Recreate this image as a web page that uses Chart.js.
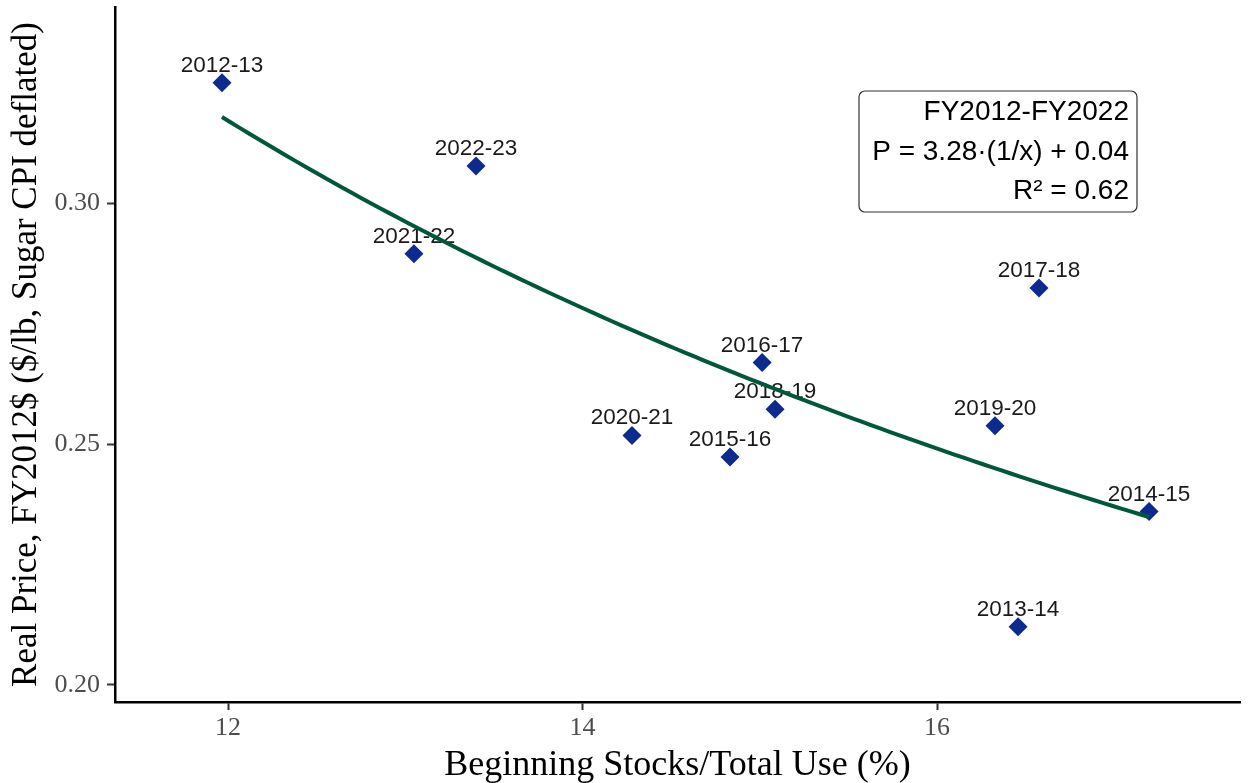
<!DOCTYPE html>
<html>
<head>
<meta charset="utf-8">
<script src="https://cdn.jsdelivr.net/npm/chart.js@4/dist/chart.umd.min.js"></script>
<style>
  html, body { margin: 0; padding: 0; background: #ffffff; }
  #wrap { width: 1248px; height: 783px; }
</style>
</head>
<body>
<div id="wrap"><canvas id="c" width="1248" height="783"></canvas></div>
<script>
// ---- data ----
const years = ["2012-13","2013-14","2014-15","2015-16","2016-17","2017-18","2018-19","2019-20","2020-21","2021-22","2022-23"];
const stocksToUse = [11.966, 16.457, 17.196, 14.832, 15.013, 16.575, 15.086, 16.327, 14.279, 13.049, 13.399];
const realPrice = [0.3250, 0.2121, 0.2360, 0.2473, 0.2669, 0.2824, 0.2572, 0.2538, 0.2518, 0.2895, 0.3077];
const xTicks = [12, 14, 16];
const yTicks = [0.20, 0.25, 0.30];
const annotationLines = ["FY2012-FY2022", "P = 3.28\u00b7(1/x) + 0.04", "R\u00b2 = 0.62"];
const xTitle = "Beginning Stocks/Total Use (%)";
const yTitle = "Real Price, FY2012$ ($/lb, Sugar CPI deflated)";

// ---- fitted curve P = a*(1/x) + b (least squares on the points) ----
const u = stocksToUse.map(v => 1 / v);
const n = u.length;
const mu = u.reduce((s, v) => s + v, 0) / n;
const my = realPrice.reduce((s, v) => s + v, 0) / n;
let sxy = 0, sxx = 0;
for (let i = 0; i < n; i++) { sxy += (u[i] - mu) * (realPrice[i] - my); sxx += (u[i] - mu) ** 2; }
const fitA = sxy / sxx, fitB = my - fitA * mu;
const xMin = Math.min(...stocksToUse), xMax = Math.max(...stocksToUse);
const curve = [];
for (let i = 0; i <= 100; i++) {
  const x = xMin + (xMax - xMin) * i / 100;
  curve.push({ x: x, y: fitA / x + fitB });
}

const points = stocksToUse.map((x, i) => ({ x: x, y: realPrice[i] }));

const labelPlugin = {
  id: 'pointLabels',
  afterDatasetDraw(chart, args) {
    if (args.index !== 1) return;
    const ctx = chart.ctx;
    const meta = chart.getDatasetMeta(1);
    ctx.save();
    ctx.font = '22.5px "Liberation Sans", Arial, sans-serif';
    ctx.fillStyle = '#1a1a1a';
    ctx.textAlign = 'center';
    ctx.textBaseline = 'alphabetic';
    meta.data.forEach((el, i) => {
      ctx.fillText(years[i], el.x, el.y - 11);
    });
    ctx.restore();
  }
};

const boxPlugin = {
  id: 'annotBox',
  afterDraw(chart) {
    const ctx = chart.ctx;
    ctx.save();
    const x0 = 859, y0 = 91, w = 278, h = 121, r = 6;
    ctx.beginPath();
    ctx.moveTo(x0 + r, y0);
    ctx.arcTo(x0 + w, y0, x0 + w, y0 + h, r);
    ctx.arcTo(x0 + w, y0 + h, x0, y0 + h, r);
    ctx.arcTo(x0, y0 + h, x0, y0, r);
    ctx.arcTo(x0, y0, x0 + w, y0, r);
    ctx.closePath();
    ctx.fillStyle = '#ffffff';
    ctx.fill();
    ctx.lineWidth = 1.2;
    ctx.strokeStyle = '#333333';
    ctx.stroke();
    ctx.font = '28px "Liberation Sans", Arial, sans-serif';
    ctx.fillStyle = '#000000';
    ctx.textAlign = 'right';
    ctx.textBaseline = 'alphabetic';
    const base = [120, 160, 199];
    annotationLines.forEach((t, i) => ctx.fillText(t, 1129, base[i]));
    ctx.restore();
  }
};

new Chart(document.getElementById('c'), {
  data: {
    datasets: [
      {
        type: 'line',
        data: curve,
        borderColor: '#00583a',
        borderWidth: 4,
        pointRadius: 0,
        fill: false,
        tension: 0,
        order: 0
      },
      {
        type: 'scatter',
        data: points,
        pointStyle: 'rectRot',
        pointRadius: 9.5,
        pointBackgroundColor: '#0d2b8e',
        pointBorderColor: '#0d2b8e',
        pointBorderWidth: 0,
        order: 1
      }
    ]
  },
  options: {
    responsive: false,
    animation: false,
    devicePixelRatio: 1,
    layout: { autoPadding: false, padding: { top: 7, right: 8, left: 0, bottom: 0 } },
    plugins: { legend: { display: false }, tooltip: { enabled: false } },
    scales: {
      x: {
        type: 'linear',
        min: 11.3625,
        max: 17.709,
        afterFit(scale) { scale.height = 81; scale.paddingLeft = 0; scale.paddingRight = 0; },
        afterBuildTicks(scale) { scale.ticks = xTicks.map(v => ({ value: v })); },
        grid: { display: true, drawOnChartArea: false, drawTicks: true, tickLength: 8, tickColor: '#333333', tickWidth: 2 },
        border: { display: true, color: '#000000', width: 2.5 },
        ticks: { color: '#4d4d4d', font: { family: '"Liberation Serif", serif', size: 26 }, padding: 3, callback: v => String(v) },
        title: { display: true, text: xTitle, color: '#000000', font: { family: '"Liberation Serif", serif', size: 36 }, padding: { top: 0, bottom: -4 } }
      },
      y: {
        type: 'linear',
        min: 0.19647,
        max: 0.3407,
        afterFit(scale) { scale.width = 115; scale.paddingTop = 0; scale.paddingBottom = 0; },
        afterBuildTicks(scale) { scale.ticks = yTicks.map(v => ({ value: v })); },
        grid: { display: true, drawOnChartArea: false, drawTicks: true, tickLength: 8, tickColor: '#333333', tickWidth: 2 },
        border: { display: true, color: '#000000', width: 2.5 },
        ticks: { color: '#4d4d4d', font: { family: '"Liberation Serif", serif', size: 26 }, padding: 7, callback: v => v.toFixed(2) },
        title: { display: true, text: yTitle, color: '#000000', font: { family: '"Liberation Serif", serif', size: 35 }, padding: { top: 6, bottom: 0 } }
      }
    }
  },
  plugins: [labelPlugin, boxPlugin]
});
</script>
</body>
</html>
